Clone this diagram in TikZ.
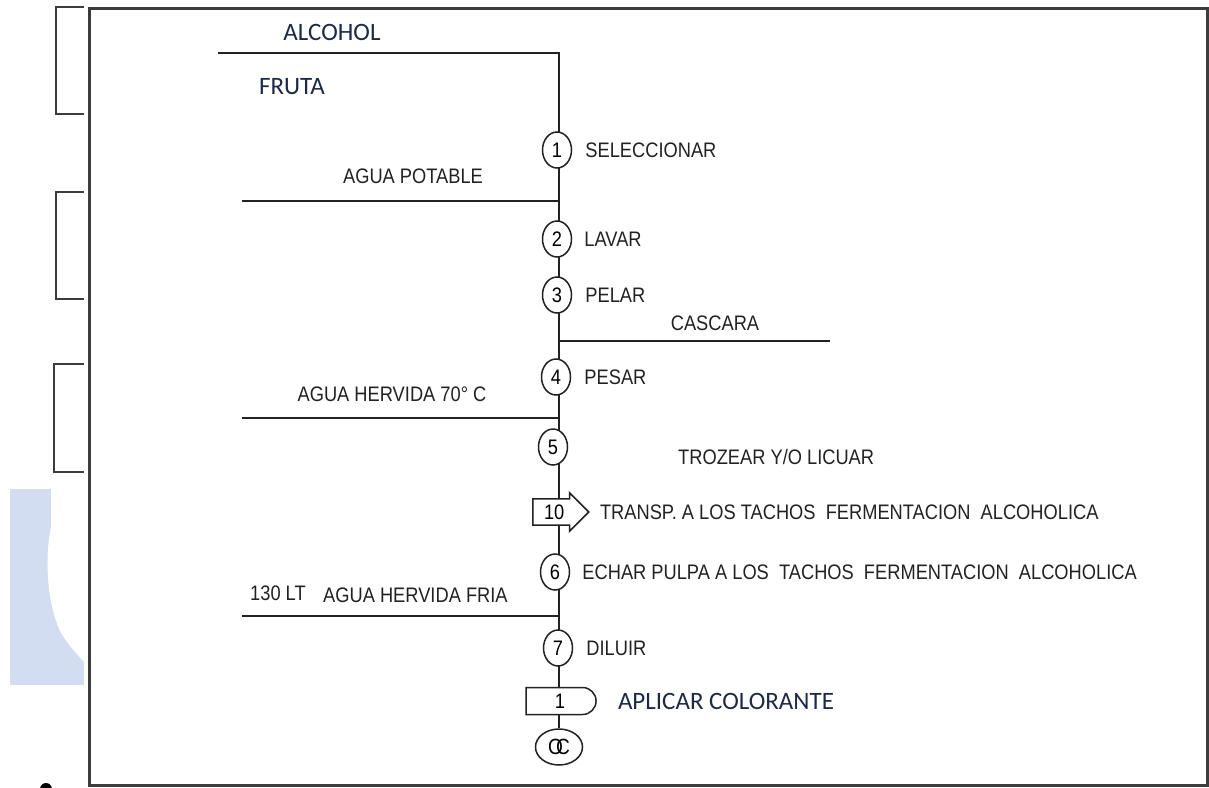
\documentclass[tikz,border=0pt]{standalone}
\usepackage{fontspec}
\setmainfont{Liberation Sans}
\newfontfamily\dinfont[FakeStretch=0.87]{Liberation Sans}
\newfontfamily\calfont{Carlito}
\usetikzlibrary{shapes.geometric, shapes.arrows, shapes.misc, positioning, backgrounds}

\definecolor{inkgray}{HTML}{222222}
\definecolor{framegray}{HTML}{3C3C3C}
\definecolor{calnavy}{HTML}{1E2A45}
\definecolor{markblue}{HTML}{D2DDF2}

\begin{document}
\begin{tikzpicture}[
    x=1pt, y=-1pt,
    font=\dinfont\fontsize{21}{24}\selectfont,
    node distance=13pt,
    stepnum/.style={ellipse, draw=inkgray, line width=1.5pt, fill=white, minimum width=29pt, minimum height=36pt, inner sep=0pt, font=\dinfont\fontsize{21}{22}\selectfont},
    transport/.style={single arrow, draw=inkgray, line width=1.5pt, fill=white, minimum height=56pt, single arrow head extend=6pt, inner xsep=3pt, inner ysep=5pt, font=\dinfont\fontsize{21}{22}\selectfont},
    delay/.style={rounded rectangle, rounded rectangle left arc=none, draw=inkgray, line width=1.5pt, fill=white, minimum width=70pt, minimum height=27pt, inner sep=0pt, font=\dinfont\fontsize{21}{22}\selectfont},
    control/.style={ellipse, draw=inkgray, line width=1.5pt, fill=white, minimum width=47pt, minimum height=36pt, inner sep=0pt, font=\dinfont\fontsize{22}{22}\selectfont},
    lbl/.style={inner sep=0pt, text=inkgray},
    callbl/.style={inner sep=0pt, text=calnavy, font=\calfont\fontsize{25}{28}\selectfont},
    flow/.style={draw=inkgray, line width=2.2pt},
    frame/.style={draw=framegray, line width=3pt},
    bracket/.style={draw=framegray, line width=2.2pt}
]

% ---- Page, frame and scan leftovers ----
\useasboundingbox (0,0) rectangle (1209,787);
\begin{scope}[on background layer]
\fill[white] (0,0) rectangle (1209,787);
\end{scope}
\draw[frame] (89,8) rectangle (1207,785);
\draw[bracket] (84,7) -- (56,7) -- (56,114) -- (84,114);
\draw[bracket] (84,192) -- (56,192) -- (56,299) -- (84,299);
\draw[bracket] (84,364) -- (54,364) -- (54,472) -- (84,472);
\fill[markblue] (10,489) rectangle (84,685);
\fill[white] (51,489) -- (51,527) .. controls (45,555) and (46,600) .. (60,631) .. controls (66,642) and (75,652) .. (84,662) -- (84,489) -- cycle;
\fill[black] (46,789) circle (6);

% ---- Process steps ----
\node[stepnum] (s1) at (557,150) {1};
\node[stepnum] (s2) at (557,239) {2};
\node[stepnum] (s3) at (557,295) {3};
\node[stepnum] (s4) at (556,377) {4};
\node[stepnum] (s5) at (553,447) {5};
\node[transport, anchor=tail] (t10) at (532,512) {10};
\node[stepnum] (s6) at (555,572) {6};
\node[stepnum] (s7) at (558,648) {7};
\node[delay] (d1) at (560,701) {1};
\node[control] (oc) at (559,747) {O\kern-7pt C};

% ---- Step labels ----
\node[lbl, right=13pt of s1] (l1) {SELECCIONAR};
\node[lbl, right=12pt of s2] (l2) {LAVAR};
\node[lbl, right=13pt of s3] (l3) {PELAR};
\node[lbl, right=13pt of s4] (l4) {PESAR};
\node[lbl, anchor=west] (l5) at (678,457) {TROZEAR Y/O LICUAR};
\node[lbl, right=10pt of t10] (l10) {TRANSP. A LOS TACHOS \ FERMENTACION \ ALCOHOLICA};
\node[lbl, right=12pt of s6] (l6) {ECHAR PULPA A LOS \ TACHOS \ FERMENTACION \ ALCOHOLICA};
\node[lbl, right=13pt of s7] (l7) {DILUIR};
\node[callbl, right=21pt of d1] (ld1) {APLICAR COLORANTE};

% ---- Inputs and outputs ----
\coordinate (spinetop) at (559,53);
\coordinate (alcL) at (218,53);
\coordinate (potL) at (242,201);
\coordinate (casR) at (830,341);
\coordinate (hotL) at (242,418);
\coordinate (coldL) at (242,616);

\node[callbl] (alc) at (332,32) {ALCOHOL};
\node[callbl] (fruta) at (292,87) {FRUTA};
\node[lbl] (pot) at (413,176) {AGUA POTABLE};
\node[lbl] (cas) at (715,323) {CASCARA};
\node[lbl] (hot) at (392,394) {AGUA HERVIDA 70° C};
\node[lbl, anchor=west] (cold1) at (250,593) {130 LT};
\node[lbl, anchor=west] (cold2) at (323,595) {AGUA HERVIDA FRIA};

% ---- Connections ----
\begin{scope}[on background layer]
\draw[flow] (alcL) -- (spinetop) -- (spinetop |- oc.north);
\end{scope}
\draw[flow] (potL) -- (potL -| spinetop);
\draw[flow] (casR) -- (casR -| spinetop);
\draw[flow] (hotL) -- (hotL -| spinetop);
\draw[flow] (coldL) -- (coldL -| spinetop);

\end{tikzpicture}
\end{document}
